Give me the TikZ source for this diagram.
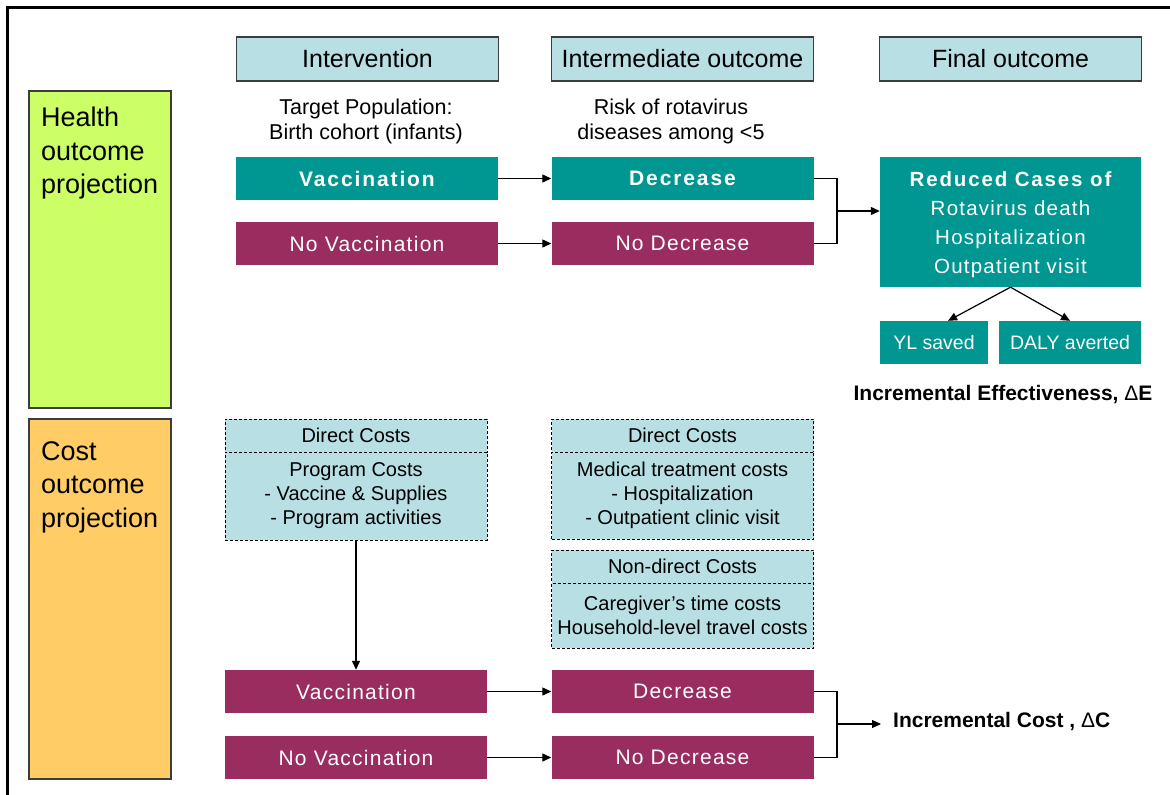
\documentclass[tikz,border=0pt]{standalone}
\usepackage{fontspec}
\setmainfont{Liberation Sans}
\usetikzlibrary{arrows.meta}
\definecolor{tealbox}{RGB}{0,150,146}
\definecolor{maroonbox}{RGB}{153,45,96}
\definecolor{lblue}{RGB}{184,223,228}
\definecolor{lgreen}{RGB}{204,255,102}
\definecolor{lorange}{RGB}{255,204,102}
\definecolor{bord}{RGB}{60,60,60}
\newfontfamily\spaced[LetterSpace=6]{Liberation Sans}
\newfontfamily\spacedb[LetterSpace=9]{Liberation Sans}
\begin{document}
\begin{tikzpicture}[x=1pt,y=-1pt,
  hdr/.style={draw=bord,line width=1.3pt,fill=lblue,minimum width=262pt,minimum height=44pt,inner sep=0pt,font=\fontsize{25}{28}\selectfont},
  side/.style={draw=bord,line width=1.3pt,minimum width=142pt,inner sep=0pt},
  sidetxt/.style={anchor=north west,inner sep=0pt,align=left,font=\fontsize{27}{33.5}\selectfont},
  plain/.style={inner sep=0pt,align=center,font=\fontsize{21.5}{25}\selectfont},
  tbold/.style={fill=tealbox,text=white,minimum width=262pt,minimum height=43pt,inner sep=0pt,font=\spacedb\fontsize{21}{25}\selectfont\bfseries},
  mbox/.style={fill=maroonbox,text=white,minimum width=262pt,minimum height=43pt,inner sep=0pt,font=\spaced\fontsize{21}{25}\selectfont},
  dbox/.style={draw=black,dash pattern=on 3pt off 2pt,line width=1pt,fill=lblue,minimum width=262pt,inner sep=0pt,align=center,font=\fontsize{20}{24}\selectfont},
  tsmall/.style={fill=tealbox,text=white,minimum height=43pt,inner sep=0pt,font=\fontsize{19.5}{24}\selectfont},
  bigtxt/.style={inner sep=0pt,font=\fontsize{21}{24}\bfseries},
  arr/.style={line width=1.2pt,-{Triangle[length=9pt,width=8pt]}},
  ln/.style={line width=1.2pt}
]
\useasboundingbox (0,0) rectangle (1170,795);
\fill[white] (0,0) rectangle (1170,795);
% frame
\coordinate (fbl) at (7.5,795);
\coordinate (ftl) at (7.5,7);
\coordinate (ftr) at (1170,7);
\draw[line width=3pt] (fbl) -- (ftl) -- (ftr);

% side boxes
\node[side,fill=lgreen,minimum height=317pt] (health) at (100,249.5) {};
\node[sidetxt] (healthtxt) at (41,107) {Health\\outcome\\projection};
\node[side,fill=lorange,minimum height=360pt] (cost) at (100,599) {};
\node[sidetxt] (costtxt) at (41,441) {Cost\\outcome\\projection};

% headers
\node[hdr] (h1) at (367.5,59) {Intervention};
\node[hdr] (h2) at (682.5,59) {Intermediate outcome};
\node[hdr] (h3) at (1010.5,59) {Final outcome};

% descriptive text
\node[plain] (tp) at (366,121) {Target Population:\\Birth cohort (infants)};
\node[plain] (risk) at (671,121) {Risk of rotavirus\\diseases among <5};

% health row
\node[tbold] (vac) at (367,178.5) {Vaccination};
\node[tbold] (dec) at (682.5,178.5) {Decrease};
\node[mbox] (novac) at (367,243.5) {No Vaccination};
\node[mbox] (nodec) at (682.5,243.5) {No Decrease};

\node[fill=tealbox,minimum width=261pt,minimum height=130pt,inner sep=0pt] (red) at (1010.5,222) {};
\node[text=white,inner sep=0pt,align=center,font=\spaced\fontsize{20.5}{29}\selectfont] (redtxt) at (1010.5,225)
  {{\spacedb\bfseries Reduced Cases of}\\Rotavirus death\\Hospitalization\\Outpatient visit};
\node[tsmall,minimum width=108pt] (yl) at (934,342.5) {YL saved};
\node[tsmall,minimum width=142pt] (daly) at (1070,342.5) {DALY averted};
\node[bigtxt] (ie) at (1003,395) {Incremental Effectiveness, {\mdseries Δ}E};

\draw[arr] (vac) -- (dec);
\draw[arr] (novac) -- (nodec);
\coordinate (j1) at (837,211);
\draw[ln] (dec.east) -| (j1) |- (nodec.east);
\draw[arr] (j1) -- (j1 -| red.west);
\draw[arr] (red.south) -- ([xshift=14pt]yl.north);
\draw[arr] (red.south) -- (daly.north);

% cost row
\node[dbox,minimum height=33pt] (dc1t) at (356,435.5) {Direct Costs};
\node[dbox,minimum height=88pt] (dc1b) at (356,496) {Program Costs\\- Vaccine \& Supplies\\- Program activities};
\node[dbox,minimum height=33pt] (dc2t) at (682.5,435.5) {Direct Costs};
\node[dbox,minimum height=87pt] (dc2b) at (682.5,495.5) {Medical treatment costs\\- Hospitalization\\- Outpatient clinic visit};
\node[dbox,minimum height=33pt] (nd2t) at (682.5,566.5) {Non-direct Costs};
\node[dbox,minimum height=65pt] (nd2b) at (682.5,615.5) {Caregiver's time costs\\Household-level travel costs};

\node[mbox] (vac2) at (356,691.5) {Vaccination};
\node[mbox] (novac2) at (356,757.5) {No Vaccination};
\node[mbox] (dec2) at (682.5,691.5) {Decrease};
\node[mbox] (nodec2) at (682.5,757.5) {No Decrease};

\draw[arr] (dc1b.south) -- (vac2.north);
\draw[arr] (vac2) -- (dec2);
\draw[arr] (novac2) -- (nodec2);
\coordinate (j2) at (837,724);
\draw[ln] (dec2.east) -| (j2) |- (nodec2.east);
\node[bigtxt,anchor=west] (ic) at (893,722) {Incremental Cost , {\mdseries Δ}C};
\coordinate (ictip) at (881,724);
\draw[arr] (j2) -- (ictip);
\end{tikzpicture}
\end{document}
